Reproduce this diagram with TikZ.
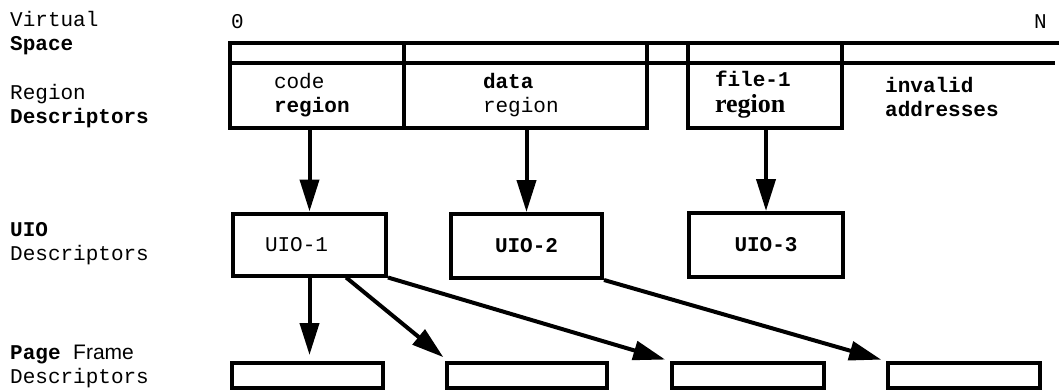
\documentclass[tikz,border=0pt]{standalone}
\usepackage{fontspec}
\setmainfont{Liberation Serif}
\setmonofont{Liberation Mono}
\setsansfont{Liberation Sans}
\usetikzlibrary{arrows.meta, positioning, calc}
\newcommand{\figfont}{\fontsize{21}{24}\selectfont\ttfamily}
\newcommand{\sidefont}{\fontsize{21}{24}\selectfont\ttfamily}
\tikzset{
    % Frame line used for all boxes
    frame line/.style={
        draw=black,
        line width=4pt
    },
    region cell/.style={
        rectangle,
        frame line,
        minimum height=65pt,
        inner ysep=0pt,
        align=left,
        font=\figfont
    },
    uio box/.style={
        rectangle,
        frame line,
        minimum width=153pt,
        minimum height=62pt,
        inner sep=0pt,
        font=\figfont
    },
    page box/.style={
        rectangle,
        frame line,
        minimum width=152pt,
        minimum height=25pt,
        inner sep=0pt
    },
    side label/.style={
        anchor=west,
        align=left,
        inner sep=0pt,
        font=\sidefont
    },
    map arrow/.style={
        -{Triangle[length=32pt,width=19pt]},
        line width=4pt,
        black
    }
}

\begin{document}
\begin{tikzpicture}[x=1pt, y=-1pt]
    \useasboundingbox (0,0) rectangle (1059,391);

    % Row labels on the left
    \node[side label] (lvirt) at (10,33) {Virtual\\\textbf{Space}};
    \node[side label] (lreg) at (10,106) {Region\\\textbf{Descriptors}};
    \node[side label] (luio) at (10,244) {\textbf{UIO}\\Descriptors};
    \node[side label] (lpage) at (10,366) {\textbf{Page} {\sffamily Frame}\\Descriptors};

    % Address range
    \node[anchor=base west, inner sep=0pt, font=\figfont] (zero) at (231,28) {0};
    \node[anchor=base east, inner sep=0pt, font=\figfont] (endn) at (1047,28) {N};

    % Virtual space band
    \draw[frame line] (1059,43) -- (230,43) -- (230,63) -- (1055,63);
    \foreach \x in {404,647,688,842}
        \draw[frame line] (\x,43) -- (\x,63);

    % Region descriptors
    \node[region cell, text width=86pt, inner xsep=44pt] (coderg) at (317,95.5) {code\\\textbf{region}};
    \node[region cell, text width=85pt, inner xsep=79pt] (datarg) at (525.5,95.5) {\textbf{data}\\region};
    \node[region cell, text width=100pt, inner xsep=27pt] (filerg) at (765,95) {\textbf{file-1}\\[2pt]{\rmfamily\bfseries\fontsize{26}{24}\selectfont region}};
    \node[anchor=west, align=left, inner sep=0pt, font=\figfont] (invalid) at (885,97) {\textbf{invalid}\\\textbf{addresses}};

    % UIO descriptors
    \node[uio box, text width=89pt, inner xsep=32pt, align=left] (uio1) at (309.5,244.5) {UIO-1};
    \node[uio box, minimum width=151pt, minimum height=64pt] (uio2) at (526.5,246) {\textbf{UIO-2}};
    \node[uio box, minimum width=154pt, minimum height=64pt] (uio3) at (766,245) {\textbf{UIO-3}};

    % Page frame descriptors
    \node[page box, minimum width=151pt] (pf1) at (307.5,375.5) {};
    \node[page box, minimum width=160pt] (pf2) at (527,375.5) {};
    \node[page box] (pf3) at (748,375.5) {};
    \node[page box] (pf4) at (964,375.5) {};

    % Arrows
    \draw[map arrow] (uio1.north |- coderg.south) -- (uio1.north);
    \draw[map arrow] (uio2.north |- datarg.south) -- (uio2.north);
    \draw[map arrow] (uio3.north |- filerg.south) -- (uio3.north);
    \draw[map arrow, shorten >=6pt] (uio1.south) -- (uio1.south |- pf1.north);
    \draw[map arrow, shorten >=6pt] (uio1.-42) -- ($(pf2.north west)+(3,0)$);
    \draw[map arrow, shorten >=5pt] (uio1.south east) -- (pf3.north west);
    \draw[map arrow, shorten >=5pt] (uio2.south east) -- (pf4.north west);
\end{tikzpicture}
\end{document}
